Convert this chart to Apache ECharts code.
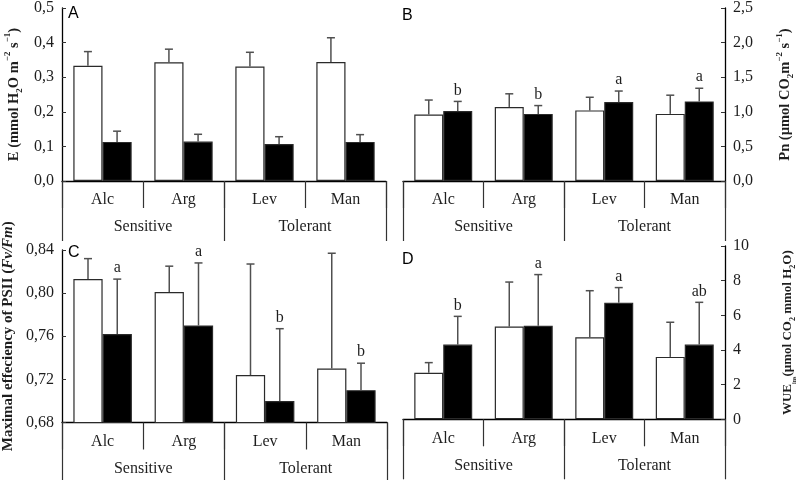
<!DOCTYPE html>
<html>
<head>
<meta charset="utf-8">
<script src="https://cdn.jsdelivr.net/npm/echarts@6/dist/echarts.min.js"></script>
<style>
  html, body { margin: 0; padding: 0; background: #fff; }
  #chart { width: 800px; height: 480px; }
</style>
</head>
<body>
<div id="chart"></div>
<script>
// categories
const cultivars = ['Alc', 'Arg', 'Lev', 'Man'];
const groups = ['Sensitive', 'Tolerant'];

// A - transpiration E (white = control, black = stress)
const eCtrl = [0.333, 0.343, 0.331, 0.344];
const eCtrlSd = [0.041, 0.038, 0.041, 0.070];
const eTrt = [0.113, 0.114, 0.107, 0.113];
const eTrtSd = [0.031, 0.021, 0.021, 0.021];
const eLetters = ['', '', '', ''];

// B - net photosynthesis Pn
const pnCtrl = [0.96, 1.07, 1.02, 0.97];
const pnCtrlSd = [0.21, 0.19, 0.19, 0.27];
const pnTrt = [1.01, 0.97, 1.14, 1.15];
const pnTrtSd = [0.14, 0.12, 0.16, 0.19];
const pnLetters = ['b', 'b', 'a', 'a'];

// C - Fv/Fm
const fvCtrl = [0.813, 0.801, 0.724, 0.730];
const fvCtrlSd = [0.019, 0.024, 0.103, 0.107];
const fvTrt = [0.762, 0.770, 0.700, 0.710];
const fvTrtSd = [0.051, 0.058, 0.067, 0.025];
const fvLetters = ['a', 'a', 'b', 'b'];

// D - WUEins
const wueCtrl = [2.69, 5.35, 4.73, 3.60];
const wueCtrlSd = [0.58, 2.57, 2.69, 2.00];
const wueTrt = [4.31, 5.40, 6.73, 4.31];
const wueTrtSd = [1.63, 2.95, 0.87, 2.44];
const wueLetters = ['b', 'a', 'a', 'ab'];

// y axis ranges (min, max, step, decimals)
const eRange = [0, 0.5, 0.1, 1];
const pnRange = [0, 2.5, 0.5, 1];
const fvRange = [0.68, 0.84, 0.04, 2];
const wueRange = [0, 10, 2, 0];

const SERIF = '"Liberation Serif", "Times New Roman", serif';
const BAR_FRAC = 0.36;
const TEXT = '#1e1e1e';

const grids = [
  { left: 62, top: 8, width: 324, height: 173 },
  { left: 403, top: 8, width: 322, height: 173 },
  { left: 62, top: 250, width: 325, height: 172.5 },
  { left: 403, top: 246, width: 322, height: 173.3 }
];

function titleStyles(size) {
  const s = Math.round(size * 0.64);
  return {
    b: { fontFamily: SERIF, fontWeight: 'bold', fontSize: size, lineHeight: size + 6, color: TEXT },
    i: { fontFamily: SERIF, fontWeight: 'bold', fontStyle: 'italic', fontSize: size, lineHeight: size + 6, color: TEXT },
    sup: { fontFamily: SERIF, fontWeight: 'bold', fontSize: s, lineHeight: s + 2, verticalAlign: 'top', color: TEXT },
    sub: { fontFamily: SERIF, fontWeight: 'bold', fontSize: s, lineHeight: s + 2, verticalAlign: 'bottom', color: TEXT },
    tiny: { fontFamily: SERIF, fontWeight: 'bold', fontSize: 6, lineHeight: 8, verticalAlign: 'bottom', color: TEXT }
  };
}

const titles = [
  '{b|E (mmol H}{sub|2}{b|O m}{sup|−2}{b| s}{sup|−1}{b|)}',
  '{b|Pn (µmol CO}{sub|2}{b|m}{sup|−2}{b| s}{sup|−1}{b|)}',
  '{b|Maximal effeciency of PSII (}{i|Fv/Fm}{b|)}',
  '{b|WUE}{tiny|ins}{b|(µmol CO}{sub|2}{b| mmol H}{sub|2}{b|O)}'
];
const titleSizes = [14.5, 14.5, 15, 13];

function xAxes(i) {
  const tickStyle = { color: '#333', width: 1.2 };
  const label = { interval: 0, fontFamily: SERIF, fontSize: 16, color: TEXT };
  return [
    {
      type: 'category', gridIndex: i, data: cultivars, position: 'bottom', offset: 0,
      axisLine: { show: true, onZero: false, lineStyle: { color: '#000', width: 1.3 } },
      axisTick: { show: true, interval: 0, alignWithLabel: false, length: 27, lineStyle: tickStyle },
      axisLabel: Object.assign({ margin: 11 }, label)
    },
    {
      type: 'category', gridIndex: i, data: groups, position: 'bottom', offset: 0,
      axisLine: { show: false },
      axisTick: { show: true, interval: 0, alignWithLabel: false, length: 60, lineStyle: tickStyle },
      axisLabel: Object.assign({ margin: 38 }, label)
    }
  ];
}

function yAxis(i, range, pos, gap) {
  return {
    type: 'value', gridIndex: i, position: pos,
    min: range[0], max: range[1], interval: range[2],
    name: titles[i], nameLocation: 'middle', nameRotate: 90, nameGap: gap,
    nameTextStyle: { rich: titleStyles(titleSizes[i]), fontFamily: SERIF, fontWeight: 'bold', fontSize: titleSizes[i], color: TEXT },
    splitLine: { show: false },
    axisLine: { show: true, onZero: false, lineStyle: { color: '#000', width: 1.3 } },
    axisTick: { show: true, inside: true, length: 4, lineStyle: { color: '#333' } },
    axisLabel: {
      margin: 8, fontFamily: SERIF, fontSize: 16, color: TEXT,
      formatter: v => v.toFixed(range[3]).replace('.', ',')
    }
  };
}

function barSeries(i, vals, fill) {
  return {
    type: 'bar', xAxisIndex: 2 * i, yAxisIndex: i, data: vals,
    barWidth: (BAR_FRAC * 100) + '%', barGap: '0%', clip: true,
    itemStyle: { color: fill, borderColor: '#2a2a2a', borderWidth: 1.2 },
    emphasis: { disabled: true }, z: 2
  };
}

function errSeries(i, vals, sds, side, letters) {
  return {
    type: 'custom', xAxisIndex: 2 * i, yAxisIndex: i, z: 5, clip: false,
    data: vals.map((v, k) => [k, v, v + sds[k]]),
    renderItem(params, api) {
      const k = api.value(0);
      const base = api.coord([k, api.value(1)]);
      const top = api.coord([k, api.value(2)]);
      const bw = api.size([1, 0])[0] * BAR_FRAC;
      const x = base[0] + side * bw / 2;
      const ls = { stroke: '#505050', lineWidth: 1.5 };
      const children = [
        { type: 'line', shape: { x1: x, y1: base[1], x2: x, y2: top[1] }, style: ls },
        { type: 'line', shape: { x1: x - 4, y1: top[1], x2: x + 4, y2: top[1] }, style: ls }
      ];
      const t = letters ? letters[params.dataIndex] : '';
      if (t) {
        children.push({
          type: 'text', x: x, y: top[1] - 3,
          style: { text: t, align: 'center', verticalAlign: 'bottom', font: '16px ' + SERIF, fill: TEXT }
        });
      }
      return { type: 'group', children: children };
    }
  };
}

const panels = [
  [eCtrl, eCtrlSd, eTrt, eTrtSd, eLetters, eRange, 'left', 38],
  [pnCtrl, pnCtrlSd, pnTrt, pnTrtSd, pnLetters, pnRange, 'right', 50],
  [fvCtrl, fvCtrlSd, fvTrt, fvTrtSd, fvLetters, fvRange, 'left', 43],
  [wueCtrl, wueCtrlSd, wueTrt, wueTrtSd, wueLetters, wueRange, 'right', 53]
];

const xs = [], ys = [], series = [];
panels.forEach((p, i) => {
  xs.push(...xAxes(i));
  ys.push(yAxis(i, p[5], p[6], p[7]));
  series.push(barSeries(i, p[0], '#fff'));
  series.push(barSeries(i, p[2], '#000'));
  series.push(errSeries(i, p[0], p[1], -1, null));
  series.push(errSeries(i, p[2], p[3], 1, p[4]));
});

const letterStyle = { font: '16px "Liberation Sans", Arial, sans-serif', fill: '#000' };
const chart = echarts.init(document.getElementById('chart'), null, { renderer: 'canvas' });
chart.setOption({
  backgroundColor: '#fff',
  animation: false,
  grid: grids,
  xAxis: xs,
  yAxis: ys,
  series: series,
  graphic: [
    { type: 'text', left: 68, top: 6, style: Object.assign({ text: 'A' }, letterStyle) },
    { type: 'text', left: 402, top: 8, style: Object.assign({ text: 'B' }, letterStyle) },
    { type: 'text', left: 68, top: 245, style: Object.assign({ text: 'C' }, letterStyle) },
    { type: 'text', left: 402, top: 252, style: Object.assign({ text: 'D' }, letterStyle) }
  ]
});
</script>
</body>
</html>
